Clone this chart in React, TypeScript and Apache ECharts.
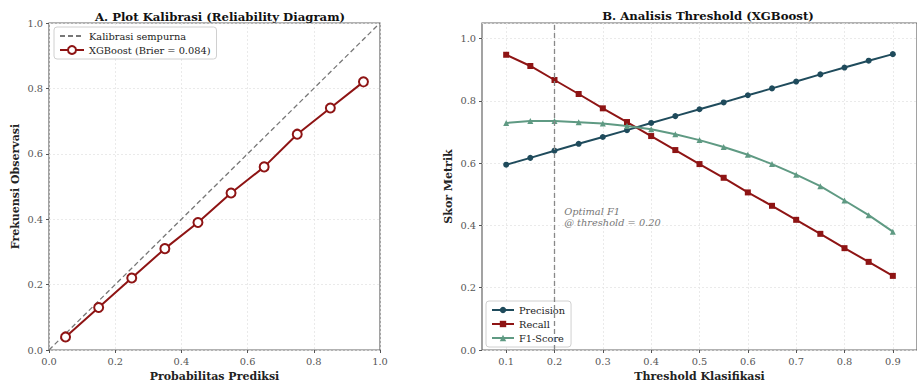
import React, { useEffect, useRef } from "react";
import * as echarts from "echarts";

const calibProb = [0.05, 0.15, 0.25, 0.35, 0.45, 0.55, 0.65, 0.75, 0.85, 0.95];
const calibObs = [0.04, 0.13, 0.22, 0.31, 0.39, 0.48, 0.56, 0.66, 0.74, 0.82];

const thresholds = [0.1, 0.15, 0.2, 0.25, 0.3, 0.35, 0.4, 0.45, 0.5, 0.55, 0.6, 0.65, 0.7, 0.75, 0.8, 0.85, 0.9];
const precision = [0.595, 0.617, 0.640, 0.662, 0.684, 0.706, 0.729, 0.751, 0.773, 0.795, 0.818, 0.840, 0.862, 0.885, 0.907, 0.929, 0.950];
const recall = [0.948, 0.912, 0.867, 0.822, 0.776, 0.732, 0.687, 0.642, 0.597, 0.553, 0.506, 0.463, 0.418, 0.373, 0.327, 0.283, 0.238];
const f1 = [0.729, 0.735, 0.735, 0.731, 0.727, 0.719, 0.709, 0.693, 0.674, 0.652, 0.627, 0.597, 0.563, 0.526, 0.480, 0.433, 0.380];

const xTicksB = [0.1, 0.2, 0.3, 0.4, 0.5, 0.6, 0.7, 0.8, 0.9];
const optimalThreshold = 0.2;

const FONT = "DejaVu Serif";
const RED = "#8e1414";
const TEAL = "#1f4b5c";
const GREEN = "#5f9a83";

const App: React.FC = () => {
  const ref = useRef<HTMLDivElement>(null);
  useEffect(() => {
    if (!ref.current) return;
    const chart = echarts.init(ref.current, undefined, { renderer: "svg" });
    const axisLabel = { fontFamily: FONT, fontSize: 9.8, color: "#555", margin: 6 };
    const splitLine = { show: true, lineStyle: { color: "#e4e4e4", type: [2, 2] as any, width: 0.8 } };
    const axisTick = { show: true, length: 3, lineStyle: { color: "#555" } };
    const nameStyle = { fontFamily: FONT, fontSize: 11, fontWeight: "bold" as const, color: "#222" };
    const option: any = {
      animation: false,
      backgroundColor: "#fff",
      title: [
        { text: "A. Plot Kalibrasi (Reliability Diagram)", left: 215, top: 6, textAlign: "center",
          textStyle: { fontFamily: FONT, fontSize: 11.7, fontWeight: "bold", color: "#111" } },
        { text: "B. Analisis Threshold (XGBoost)", left: 703, top: 5, textAlign: "center",
          textStyle: { fontFamily: FONT, fontSize: 11.7, fontWeight: "bold", color: "#111" } },
      ],
      grid: [
        { left: 49, top: 23, width: 331, height: 331, show: true, borderColor: "#666", borderWidth: 1.2, backgroundColor: "transparent" },
        { left: 482, top: 23, width: 445, height: 331, show: true, borderColor: "#666", borderWidth: 1.2, backgroundColor: "transparent" },
      ],
      xAxis: [
        { gridIndex: 0, type: "value", min: 0, max: 1, interval: 0.2,
          axisLine: { show: false }, axisTick, splitLine,
          axisLabel: { ...axisLabel, formatter: (v: number) => v.toFixed(1) },
          name: "Probabilitas Prediksi", nameLocation: "middle", nameGap: 21, nameTextStyle: nameStyle },
        { gridIndex: 1, type: "value", min: 0.05, max: 0.95,
          axisLine: { show: false },
          axisTick: { ...axisTick, customValues: xTicksB },
          splitLine,
          axisLabel: { ...axisLabel, customValues: xTicksB, formatter: (v: number) => v.toFixed(1) },
          name: "Threshold Klasifikasi", nameLocation: "middle", nameGap: 21, nameTextStyle: nameStyle },
      ],
      yAxis: [
        { gridIndex: 0, type: "value", min: 0, max: 1, interval: 0.2,
          axisLine: { show: false }, axisTick, splitLine,
          axisLabel: { ...axisLabel, formatter: (v: number) => v.toFixed(1) },
          name: "Frekuensi Observasi", nameLocation: "middle", nameGap: 28, nameTextStyle: nameStyle },
        { gridIndex: 1, type: "value", min: 0, max: 1.05, interval: 0.2,
          axisLine: { show: false }, axisTick, splitLine,
          axisLabel: { ...axisLabel, showMaxLabel: false, formatter: (v: number) => v.toFixed(1) },
          name: "Skor Metrik", nameLocation: "middle", nameGap: 28, nameTextStyle: nameStyle },
      ],
      legend: [
        { data: [{ name: "Kalibrasi sempurna", itemStyle: { opacity: 0 } }, "XGBoost (Brier = 0.084)"],
          orient: "vertical", left: 54, top: 27,
          itemWidth: 24, itemHeight: 10, itemGap: 4, padding: [4, 6, 4, 5],
          backgroundColor: "rgba(255,255,255,0.9)", borderColor: "#d0d0d0", borderWidth: 1, borderRadius: 3,
          textStyle: { fontFamily: FONT, fontSize: 9.8, color: "#222" } },
        { data: ["Precision", "Recall", "F1-Score"], orient: "vertical", left: 486, top: 301,
          itemWidth: 22, itemHeight: 8, itemGap: 4, padding: [4, 6, 4, 5],
          backgroundColor: "rgba(255,255,255,0.9)", borderColor: "#d0d0d0", borderWidth: 1, borderRadius: 3,
          textStyle: { fontFamily: FONT, fontSize: 9.8, color: "#222" } },
      ],
      series: [
        { name: "Kalibrasi sempurna", type: "line", xAxisIndex: 0, yAxisIndex: 0,
          data: [[0, 0], [1, 1]], showSymbol: false, symbol: "none",
          lineStyle: { color: "#777", type: [5, 3], width: 1.3 }, itemStyle: { color: "#777" } },
        { name: "XGBoost (Brier = 0.084)", type: "line", xAxisIndex: 0, yAxisIndex: 0,
          data: calibProb.map((x, i) => [x, calibObs[i]]),
          symbol: "circle", symbolSize: 9,
          lineStyle: { color: RED, width: 2 },
          itemStyle: { color: "#fff", borderColor: RED, borderWidth: 2 } },
        { name: "Precision", type: "line", xAxisIndex: 1, yAxisIndex: 1,
          data: thresholds.map((x, i) => [x, precision[i]]),
          symbol: "circle", symbolSize: 6,
          lineStyle: { color: TEAL, width: 2 }, itemStyle: { color: TEAL },
          markLine: { silent: true, symbol: "none", label: { show: false },
            lineStyle: { color: "#888", type: [5, 3], width: 1.3 },
            data: [{ xAxis: optimalThreshold }] } },
        { name: "Recall", type: "line", xAxisIndex: 1, yAxisIndex: 1,
          data: thresholds.map((x, i) => [x, recall[i]]),
          symbol: "rect", symbolSize: 6,
          lineStyle: { color: RED, width: 2 }, itemStyle: { color: RED } },
        { name: "F1-Score", type: "line", xAxisIndex: 1, yAxisIndex: 1,
          data: thresholds.map((x, i) => [x, f1[i]]),
          symbol: "triangle", symbolSize: 6,
          lineStyle: { color: GREEN, width: 2 }, itemStyle: { color: GREEN },
          markPoint: { silent: true, symbol: "circle", symbolSize: 0,
            data: [{ coord: [optimalThreshold + 0.02, 0.427] }],
            label: { show: true, position: "right", distance: 0, align: "left", verticalAlign: "middle",
              formatter: "Optimal F1\n@ threshold = " + optimalThreshold.toFixed(2),
              fontFamily: FONT, fontStyle: "italic", fontSize: 9.8, color: "#777", lineHeight: 11 } } },
      ],
    };
    chart.setOption(option);
    return () => chart.dispose();
  }, []);
  return <div ref={ref} style={{ position: "absolute", left: 0, top: 0, width: 917, height: 387 }} />;
};

export default App;
